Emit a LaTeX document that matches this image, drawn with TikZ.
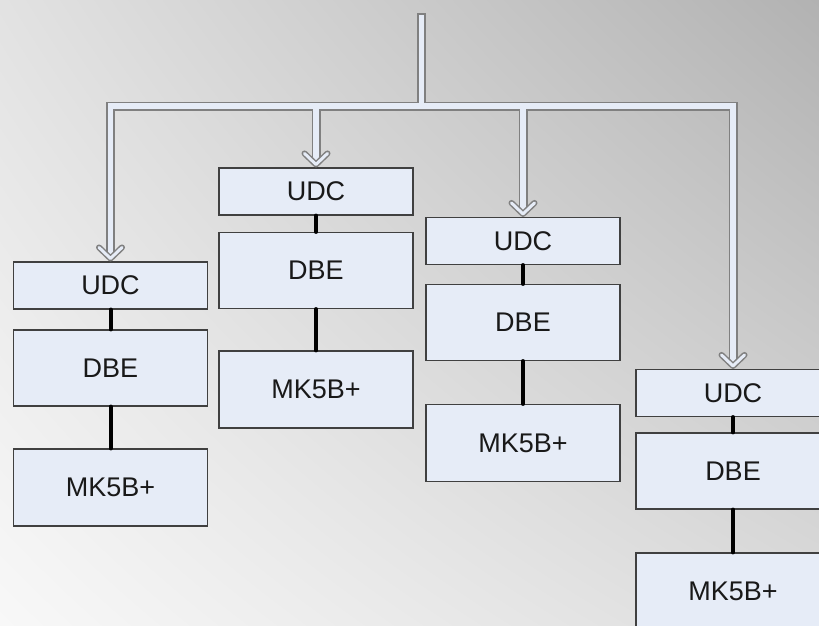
\documentclass[tikz,border=0pt]{standalone}
\usepackage{fontspec}
\setmainfont{Liberation Sans}
\usetikzlibrary{calc,shadings}
\definecolor{boxfill}{HTML}{E6ECF7}
\definecolor{pipeedge}{HTML}{808080}
\definecolor{bgA}{HTML}{E2E2E2}
\definecolor{bgB}{HTML}{B2B2B2}
\definecolor{bgC}{HTML}{F8F8F8}
\definecolor{bgD}{HTML}{DCDCDC}
\begin{document}
\begin{tikzpicture}[x=1pt,y=-1pt,
  box/.style={draw=black!75, line width=1.1pt, fill=boxfill, minimum width=194pt,
    inner sep=0pt, font=\fontsize{27}{30}\selectfont, text=black!90},
  udcbox/.style={box, minimum height=47pt},
  dbebox/.style={box, minimum height=76pt},
  mkbox/.style={box, minimum height=77pt},
  link/.style={draw=black, line width=4pt, line cap=round},
  pipeout/.style={draw=pipeedge, line width=9pt, line cap=rect, line join=miter},
  pipein/.style={draw=boxfill, line width=5.5pt, line cap=rect, line join=miter},
  chevout/.style={draw=pipeedge, line width=6pt, line cap=round, line join=round},
  chevin/.style={draw=boxfill, line width=3pt, line cap=round, line join=round}]
\useasboundingbox (0,0) rectangle (819,626);
\clip (0,0) rectangle (819,626);
\shade[upper left=bgA, upper right=bgB, lower left=bgC, lower right=bgD] (0,0) rectangle (819,626);

% column 1
\node[udcbox] (udc1) at (110.5,285.5) {UDC};
\node[dbebox] (dbe1) at (110.5,368) {DBE};
\node[mkbox]  (mk1)  at (110.5,487.5) {MK5B+};
% column 2
\node[udcbox] (udc2) at (316,191.5) {UDC};
\node[dbebox] (dbe2) at (316,270.5) {DBE};
\node[mkbox]  (mk2)  at (316,389.5) {MK5B+};
% column 3
\node[udcbox] (udc3) at (523,241) {UDC};
\node[dbebox] (dbe3) at (523,322.5) {DBE};
\node[mkbox]  (mk3)  at (523,443) {MK5B+};
% column 4
\node[udcbox] (udc4) at (733,393) {UDC};
\node[dbebox] (dbe4) at (733,471) {DBE};
\node[mkbox]  (mk4)  at (733,591.5) {MK5B+};

\foreach \i in {1,2,3,4}{
  \draw[link] (udc\i.south) -- (dbe\i.north);
  \draw[link] (dbe\i.south) -- (mk\i.north);
}

% pipe network
\coordinate (src) at (421.5,17.5);
\coordinate (jn) at (421.5,106);
\coordinate (c1) at (110.5,106);
\coordinate (c4) at (733,106);
\coordinate (b2) at (316,106);
\coordinate (b3) at (523,106);
\foreach \s in {pipeout,pipein}{
  \draw[\s] (src) -- (jn);
  \draw[\s] ($(udc1.north)+(0,-8)$) -- (c1) -- (c4) -- ($(udc4.north)+(0,-8)$);
  \draw[\s] (b2) -- ($(udc2.north)+(0,-8)$);
  \draw[\s] (b3) -- ($(udc3.north)+(0,-8)$);
}
\foreach \i in {1,2,3,4}{
  \foreach \s in {chevout,chevin}{
    \draw[\s] ($(udc\i.north)+(-11.5,-14)$) -- ($(udc\i.north)+(0,-3)$) -- ($(udc\i.north)+(11.5,-14)$);
  }
}
\end{tikzpicture}
\end{document}
